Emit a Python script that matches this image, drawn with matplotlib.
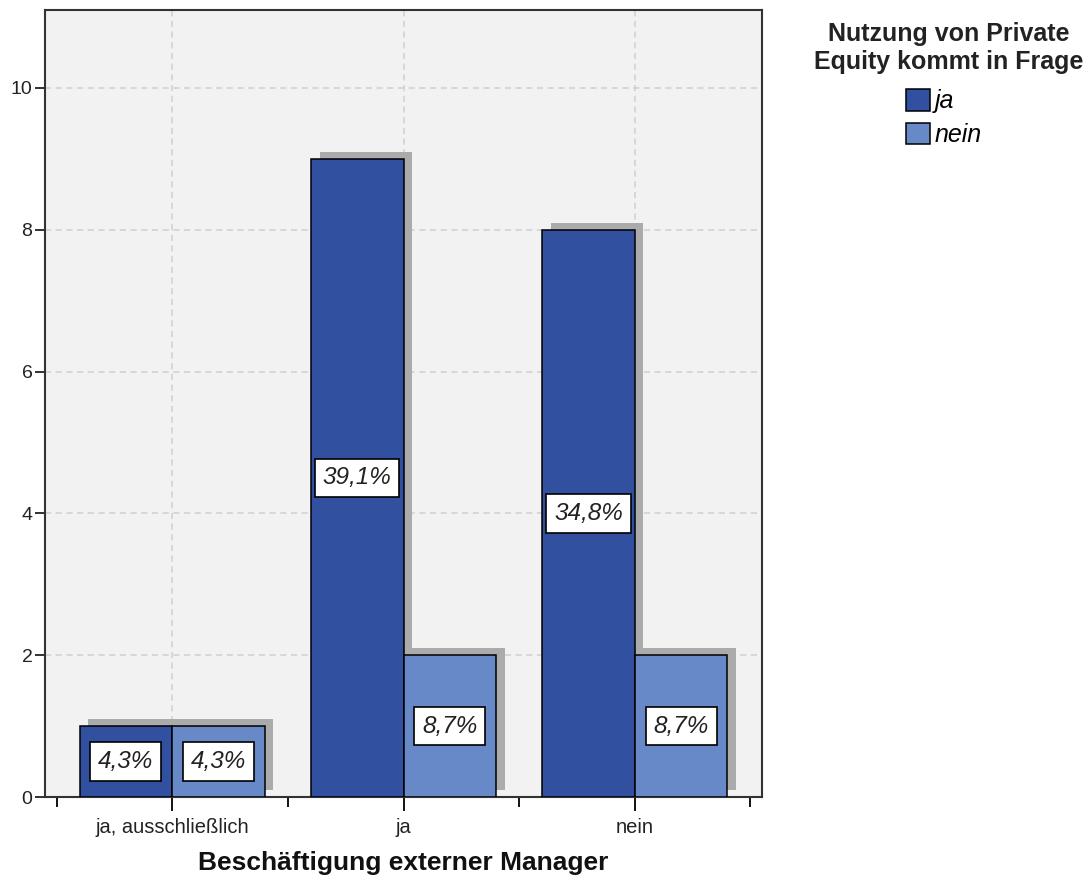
import numpy as np
import matplotlib.pyplot as plt

plt.rcParams["font.family"] = ["Liberation Sans", "DejaVu Sans"]

categories = ["ja, ausschließlich", "ja", "nein"]
series_names = ["ja", "nein"]
counts_ja = [1, 9, 8]
counts_nein = [1, 2, 2]
pct_ja = ["4,3%", "39,1%", "34,8%"]
pct_nein = ["4,3%", "8,7%", "8,7%"]
legend_title = "Nutzung von Private\nEquity kommt in Frage"
x_title = "Beschäftigung externer Manager"

COLORS = ["#3150A0", "#6789C8"]
SHADOW = "#ABABAB"
BAR_W = 0.4
W, H = 1091, 884

fig = plt.figure(figsize=(W / 100, H / 100), dpi=100)
ax = fig.add_axes([45 / W, 1 - 797 / H, 717 / W, 787 / H])
ax.set_facecolor("#F2F2F2")

x = np.arange(len(categories))
offsets = [-BAR_W / 2, BAR_W / 2]
all_vals = [counts_ja, counts_nein]
all_pct = [pct_ja, pct_nein]

# shadows first so they sit behind the bars
for k in range(2):
    ax.bar(x + offsets[k] + 0.037, all_vals[k], width=BAR_W, bottom=0.1,
           color=SHADOW, zorder=2, linewidth=0)

handles = []
for k in range(2):
    bars = ax.bar(x + offsets[k], all_vals[k], width=BAR_W, color=COLORS[k],
                  edgecolor="black", linewidth=1.1, zorder=3, label=series_names[k])
    handles.append(bars)
    for b, txt in zip(bars, all_pct[k]):
        ax.text(b.get_x() + b.get_width() / 2, b.get_height() / 2, txt,
                ha="center", va="center", fontsize=17.5, style="italic",
                color="#222222", zorder=5,
                bbox=dict(boxstyle="square,pad=0.32", fc="white", ec="black", lw=1.2))

ax.set_xlim(-0.55, 2.55)
ax.set_ylim(0, 11.1)
ax.set_xticks(x)
ax.set_xticklabels(categories, fontsize=14.5, color="#222222")
ax.set_xticks([-0.5, 0.5, 1.5, 2.5], minor=True)
ax.set_yticks([0, 2, 4, 6, 8, 10])
ax.tick_params(axis="y", labelsize=14, length=7, width=1.3, colors="#222222", pad=2)
ax.tick_params(axis="x", which="major", length=10, width=1.3, pad=5)
ax.tick_params(axis="x", which="minor", length=7, width=1.3)

ax.grid(True, which="major", axis="both", linestyle=(0, (4, 3)), color="#CFCFCF",
        linewidth=1.1, zorder=1)
ax.set_axisbelow(True)

for s in ax.spines.values():
    s.set_color("#333333")
    s.set_linewidth(1.5)

ax.set_xlabel(x_title, fontsize=19, fontweight="bold", labelpad=10, color="#111111")

# legend title drawn separately so its gap to the entries can match
fig.text(949 / W, 1 - 48 / H, legend_title, ha="center", va="center",
         fontsize=18, fontweight="bold", color="#222222", linespacing=1.2)
ax.legend(handles=handles, labels=series_names, loc="upper left",
          bbox_to_anchor=(906 / W, 1 - 89 / H), bbox_transform=fig.transFigure,
          frameon=False, prop={"size": 18, "style": "italic"}, handlelength=0.95,
          handleheight=0.95, handletextpad=0.2, labelspacing=0.38,
          borderpad=0, borderaxespad=0)

fig.savefig("out.png", dpi=100)
